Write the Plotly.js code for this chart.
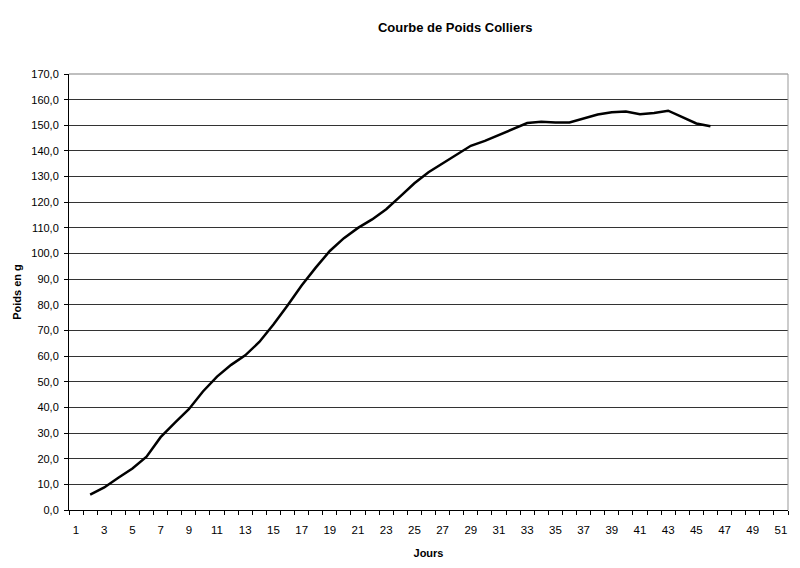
<!DOCTYPE html>
<html>
<head>
<meta charset="utf-8">
<script src="https://cdn.plot.ly/plotly-3.0.1.min.js"></script>
<style>html,body{margin:0;padding:0;background:#fff;}#chart{width:800px;height:568px;}</style>
</head>
<body>
<div id="chart"></div>
<script>
const days = [2,3,4,5,6,7,8,9,10,11,12,13,14,15,16,17,18,19,20,21,22,23,24,25,26,27,28,29,30,31,32,33,34,35,36,37,38,39,40,41,42,43,44,45,46];
const poids = [6.0,8.8,12.6,16.2,20.8,28.4,34.0,39.3,46.2,52.0,56.6,60.3,65.5,72.3,79.7,87.5,94.5,101.0,106.0,110.0,113.3,117.3,122.3,127.4,131.7,135.2,138.7,142.0,143.9,146.3,148.8,150.9,151.4,151.1,151.1,152.6,154.2,155.1,155.4,154.3,154.8,155.7,153.2,150.7,149.6];
const xTickVals = [1,3,5,7,9,11,13,15,17,19,21,23,25,27,29,31,33,35,37,39,41,43,45,47,49,51];
const xTickText = ['1','3','5','7','9','11','13','15','17','19','21','23','25','27','29','31','33','35','37','39','41','43','45','47','49','51'];
const yTickVals = [0,10,20,30,40,50,60,70,80,90,100,110,120,130,140,150,160,170];

const font = 'Liberation Sans, Arial, sans-serif';
Plotly.newPlot('chart', [{
  x: days, y: poids, type: 'scatter', mode: 'lines',
  line: {color: '#000', width: 2.5}, hoverinfo: 'skip'
}], {
  width: 800, height: 568,
  margin: {l: 69, r: 12, t: 74, b: 58},
  paper_bgcolor: '#fff', plot_bgcolor: '#fff',
  separators: ', ',
  showlegend: false,
  font: {family: font, size: 11, color: '#000'},
  title: {text: '<b>Courbe de Poids Colliers</b>', x: 0.569, xref: 'container', xanchor: 'center', y: 0.951, yref: 'container', yanchor: 'middle', font: {family: font, size: 13, color: '#000'}},
  xaxis: {
    range: [0.5, 51.5], tickmode: 'array', tickvals: xTickVals, ticktext: xTickText,
    ticks: '', showgrid: false, zeroline: false,
    showline: true, linecolor: '#000', linewidth: 1,
    ticklabelstandoff: 9,
    tickfont: {family: font, size: 11.5, color: '#000'},
    minor: {tick0: 0.5, dtick: 1, ticks: 'outside', ticklen: 4, tickcolor: '#000', tickwidth: 1, showgrid: false},
    title: {text: '<b>Jours</b>', font: {family: font, size: 11, color: '#000'}, standoff: 14}
  },
  yaxis: {
    range: [0, 170], tickmode: 'array', tickvals: yTickVals, tickformat: '.1f',
    ticks: 'outside', ticklen: 4, tickcolor: '#000',
    showgrid: true, gridcolor: '#333', gridwidth: 1, zeroline: false,
    showline: true, linecolor: '#000', linewidth: 1,
    ticklabelstandoff: 3,
    tickfont: {family: font, size: 11, color: '#000'},
    title: {text: '<b>Poids en g</b>', font: {family: font, size: 11, color: '#000'}, standoff: 7}
  },
  shapes: [
    {type: 'line', xref: 'paper', yref: 'paper', x0: 0, x1: 1, y0: 1, y1: 1, line: {color: '#aaa', width: 1.5}, layer: 'above'},
    {type: 'line', xref: 'paper', yref: 'paper', x0: 1, x1: 1, y0: 0, y1: 1, line: {color: '#999', width: 1}, layer: 'above'}
  ]
}, {displayModeBar: false, staticPlot: true});
</script>
</body>
</html>
